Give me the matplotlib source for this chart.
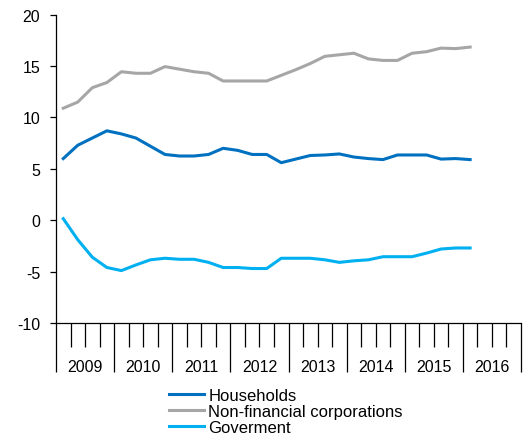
import matplotlib
matplotlib.use("Agg")
import matplotlib.pyplot as plt
import numpy as np

plt.rcParams['font.family'] = ['Liberation Sans', 'DejaVu Sans']
plt.rcParams['axes.unicode_minus'] = False

# quarterly data, 2009 Q1 .. 2016 Q1
years = ['2009', '2010', '2011', '2012', '2013', '2014', '2015', '2016']
households = [6.0, 7.3, 8.0, 8.7, 8.4, 8.0, 7.2, 6.4, 6.25, 6.25, 6.4, 7.0, 6.8, 6.4, 6.4,
              5.6, 5.95, 6.3, 6.35, 6.45, 6.15, 6.0, 5.9, 6.35, 6.35, 6.35, 5.95, 6.0, 5.9]
nonfin = [10.9, 11.5, 12.9, 13.4, 14.45, 14.3, 14.3, 14.95, 14.7, 14.45, 14.3, 13.55, 13.55, 13.55, 13.55,
          14.1, 14.65, 15.25, 15.95, 16.1, 16.25, 15.7, 15.55, 15.55, 16.25, 16.4, 16.75, 16.7, 16.85]
government = [0.15, -1.9, -3.6, -4.6, -4.9, -4.35, -3.85, -3.7, -3.8, -3.8, -4.1, -4.6, -4.6, -4.7, -4.7,
              -3.7, -3.7, -3.7, -3.85, -4.1, -3.95, -3.85, -3.55, -3.55, -3.55, -3.2, -2.8, -2.7, -2.7]

x = np.arange(len(households)) + 0.5

fig = plt.figure(figsize=(5.28, 4.39), dpi=100)
ax = fig.add_axes([56 / 528, 115 / 439, 465 / 528, 308.3 / 439])

ax.plot(x, households, color='#0070C0', lw=2.2, label='Households')
ax.plot(x, nonfin, color='#A6A6A6', lw=2.2, label='Non-financial corporations')
ax.plot(x, government, color='#00B0F0', lw=2.2, label='Goverment')

ax.set_xlim(0, 4 * len(years))
ax.set_ylim(-10, 20)
ax.set_yticks(range(-10, 21, 5))

for s in ['top', 'right']:
    ax.spines[s].set_visible(False)
for s in ['left', 'bottom']:
    ax.spines[s].set_linewidth(0.9)

ax.tick_params(axis='y', direction='out', length=4.5, width=0.9, pad=7, labelsize=11.5)
ax.set_xticks(range(0, 4 * len(years) + 1, 4))
ax.set_xticklabels([])
ax.set_xticks(range(0, 4 * len(years) + 1), minor=True)
ax.tick_params(axis='x', which='major', direction='out', length=35, width=0.9)
ax.tick_params(axis='x', which='minor', direction='out', length=17, width=0.9)

for i, yr in enumerate(years):
    ax.text(4 * i + 2, -0.14, yr, transform=ax.get_xaxis_transform(),
            ha='center', va='center', fontsize=11.5)

fig.legend(loc='upper left', bbox_to_anchor=(169 / 528, 1 - 389 / 439),
           frameon=False, fontsize=12, borderpad=0, borderaxespad=0,
           handlelength=2.1, handletextpad=0.25, labelspacing=0.06)

fig.savefig('out.png', dpi=100)
